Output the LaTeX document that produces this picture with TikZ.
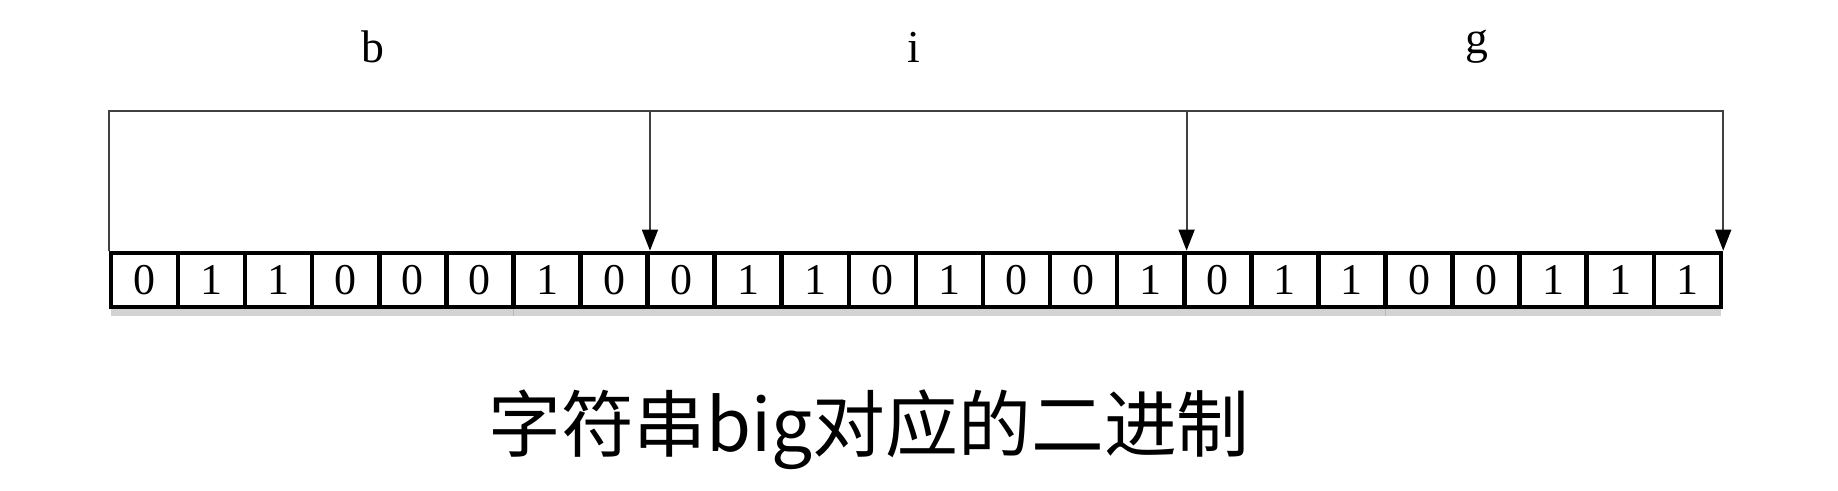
\documentclass[tikz,border=0pt]{standalone}
\usepackage{fontspec}
\setmainfont{Liberation Serif}
\newfontfamily\cjk{Noto Sans CJK SC}
\usetikzlibrary{arrows.meta, shadows}

\begin{document}
\begin{tikzpicture}
  [
  x = 0.01cm, y = -0.01cm,
  bit/.style = {rectangle, draw, line width = 1.3pt,
    minimum width = 0.671cm, minimum height = 0.54cm,
    inner sep = 0pt, font = \fontsize{12.5}{14}\selectfont,
    fill = white, drop shadow = {shadow xshift = 0pt,
      shadow yshift = -2.5pt, opacity = 0.35}},
  % letter
  letter/.style = {font = \fontsize{13}{15}\selectfont},
  % line
  line/.style = {draw, black!75, line width = 0.6pt,
    -{Triangle[length = 6pt, width = 4.5pt, black]}},
  ]
  \useasboundingbox (0,0) rectangle (1838,490);

  % nodes
  \foreach \b [count = \i] in {0,1,1,0,0,0,1,0,0,1,1,0,1,0,0,1,0,1,1,0,0,1,1,1}
    \node [bit] (c\i) at ({111 + 67.08*(\i - 0.5)}, 280) {\b};

  \node [letter] (lb) at (373, 47) {b};
  \node [letter] (li) at (914, 47) {i};
  \node [letter] (lg) at (1477, 47) {g};

  \node [font = \cjk\fontsize{20.7}{24}\selectfont] (cap) at (869, 430)
    {字符串big对应的二进制};

  % path
  \coordinate (top) at (0, 111);
  \path [line] (c1.north west) -- (c1.north west |- top)
    -- (c24.north east |- top) -- (c24.north east);
  \path [line] (c8.north east |- top) -- (c8.north east);
  \path [line] (c16.north east |- top) -- (c16.north east);

\end{tikzpicture}
\end{document}
